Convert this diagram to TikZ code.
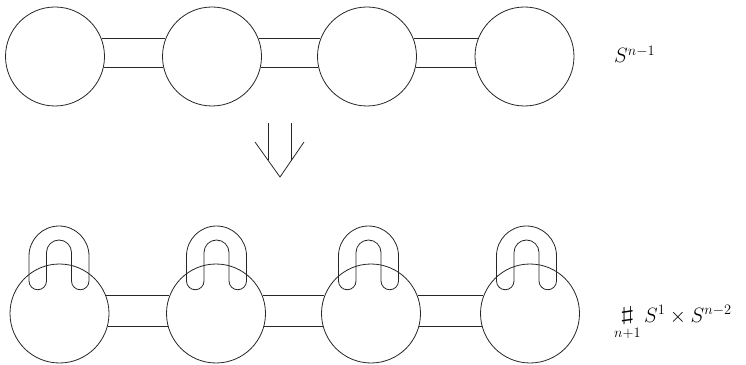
\documentclass[tikz,border=0pt]{standalone}
\usepackage{amsmath}
\usepackage{graphicx}
\begin{document}
\begin{tikzpicture}[x=1pt,y=1pt,
  ln/.style={line width=0.8pt,black!85},
  ball/.style={ln,draw,circle,minimum size=99pt,inner sep=0pt},
  lbl/.style={anchor=base west,inner sep=0pt,font=\fontsize{21}{25}\selectfont}]
\useasboundingbox (0,0) rectangle (746,364);
% top row
\node[ball] (t1) at (55,307.5) {};
\node[ball] (t2) at (212,307.5) {};
\node[ball] (t3) at (367,307.5) {};
\node[ball] (t4) at (524.5,307.5) {};
\foreach \a/\b in {t1/t2,t2/t3,t3/t4}{
  \draw[ln] (\a.21) -- (\b.159);
  \draw[ln] (\a.-13) -- (\b.193);
}
\node[lbl] (ltop) at (614,301) {$S^{n-1}$};
% arrow
\coordinate (al) at (255,222);
\coordinate (tip) at (280,187);
\coordinate (ar) at (304,222);
\coordinate (v1) at (268,241);
\coordinate (v2) at (291,241);
\draw[ln] (al) -- (tip) -- (ar);
\draw[ln] (v1) -- (268,203.8);
\draw[ln] (v2) -- (291,203);
% bottom row
\node[ball] (b1) at (59.5,50.5) {};
\node[ball] (b2) at (216,50.5) {};
\node[ball] (b3) at (371,50.5) {};
\node[ball] (b4) at (530,50.5) {};
\foreach \a/\b in {b1/b2,b2/b3,b3/b4}{
  \draw[ln] (\a.21) -- (\b.159);
  \draw[ln] (\a.-15) -- (\b.195);
}
% handles
\foreach \h in {59,216.5,368.5,526.5}{
  \draw[ln] (\h-12.5,83) -- (\h-12.5,111.5)
    arc[start angle=180,end angle=0,radius=12.5]
    -- (\h+12.5,83)
    arc[start angle=180,end angle=360,radius=8.75]
    -- (\h+30,108)
    arc[start angle=0,end angle=180,radius=30]
    -- (\h-30,83)
    arc[start angle=180,end angle=360,radius=8.75]
    -- cycle;
}
\node[lbl] (lbot) at (614,42) {$\mathop{\raisebox{2pt}{\scalebox{1.9}[0.95]{$\sharp$}}}\limits_{\vphantom{X}n+1} S^1\times S^{n-2}$};
\end{tikzpicture}
\end{document}
